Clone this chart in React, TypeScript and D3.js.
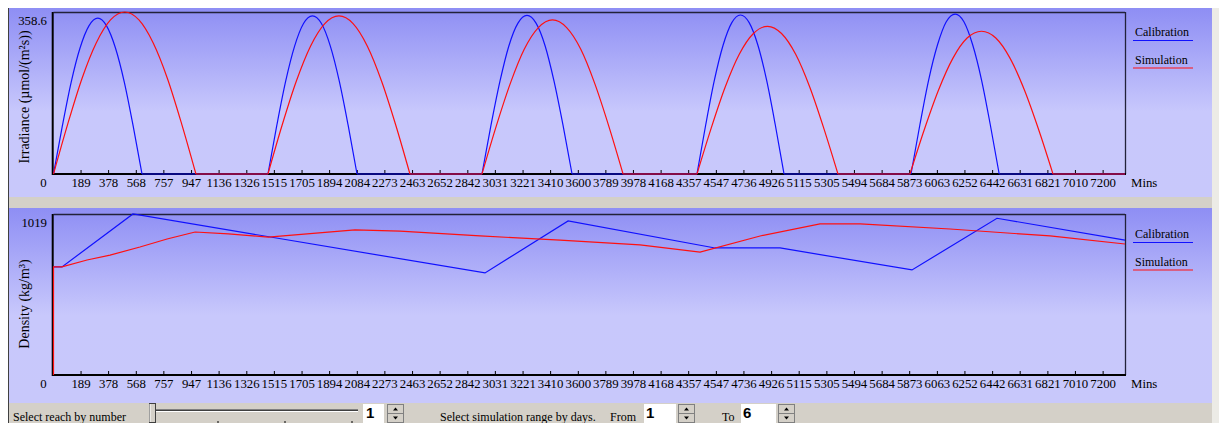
import React from 'react';
import * as d3 from 'd3';

// x axis tick values (minutes)
const xTicks = [189, 378, 568, 757, 947, 1136, 1326, 1515, 1705, 1894, 2084, 2273, 2463, 2652, 2842, 3031, 3221, 3410, 3600, 3789, 3978, 4168, 4357, 4547, 4736, 4926, 5115, 5305, 5494, 5684, 5873, 6063, 6252, 6442, 6631, 6821, 7010, 7200];

const legendLabels = ['Calibration', 'Simulation'];

// irradiance, [minute, value]
const calibrationIrradiance: [number, number][] = [
  [0, 0], [61, 107], [121, 203], [182, 279], [243, 328], [304, 345], [364, 328], [425, 279], [486, 203], [546, 107], [607, 0],
  [1471, 0], [1532, 108], [1593, 206], [1654, 283], [1715, 333], [1776, 350], [1838, 333], [1899, 283], [1960, 206], [2021, 108], [2082, 0],
  [2939, 0], [3001, 108], [3063, 206], [3124, 284], [3186, 334], [3248, 351], [3310, 334], [3372, 284], [3433, 206], [3495, 108], [3557, 0],
  [4414, 0], [4474, 109], [4533, 207], [4593, 285], [4653, 335], [4712, 352], [4772, 335], [4832, 285], [4892, 207], [4951, 109], [5011, 0],
  [5882, 0], [5943, 109], [6003, 208], [6064, 286], [6124, 337], [6185, 354], [6245, 337], [6305, 286], [6366, 208], [6426, 109], [6487, 0],
  [7350, 0],
];

const simulationIrradiance: [number, number][] = [
  [0, 0], [98, 111], [195, 211], [293, 290], [391, 341], [489, 358.6], [586, 341], [684, 290], [782, 211], [879, 111], [977, 0],
  [1471, 0], [1568, 108], [1666, 206], [1763, 283], [1861, 333], [1958, 350], [2055, 333], [2153, 283], [2250, 206], [2348, 108], [2445, 0],
  [2939, 0], [3036, 105], [3133, 200], [3229, 276], [3326, 324], [3423, 341], [3520, 324], [3617, 276], [3713, 200], [3810, 105], [3907, 0],
  [4414, 0], [4511, 101], [4607, 192], [4704, 265], [4801, 311], [4898, 327], [4994, 311], [5091, 265], [5188, 192], [5284, 101], [5381, 0],
  [5875, 0], [5973, 98], [6071, 186], [6169, 256], [6267, 301], [6366, 316], [6464, 301], [6562, 256], [6660, 186], [6758, 98], [6856, 0],
  [7350, 0],
];

// density, [minute, value]
const calibrationDensity: [number, number][] = [
  [0, 684], [58, 684], [545, 1019], [2960, 646], [3530, 975], [4538, 804], [4984, 804], [5889, 665], [6472, 992], [7350, 854],
];

const simulationDensity: [number, number][] = [
  [0, 0], [0, 684], [58, 684], [230, 728], [388, 759], [593, 810], [779, 861], [971, 905], [1200, 893], [1473, 873],
  [2068, 918], [2377, 911], [2926, 880], [3475, 854], [4023, 823], [4435, 778], [4847, 880], [5258, 956], [5533, 956],
  [6150, 924], [6836, 880], [7350, 829],
];

const SERIF = '"Liberation Serif", "Times New Roman", serif';
const SANS = '"Liberation Sans", Arial, sans-serif';
const BLUE = '#1010ff';
const RED = '#ff1010';

const plotLeft = 53.5;
const plotRight = 1125;
const x = d3.scaleLinear().domain([0, 7350]).range([plotLeft, plotRight]);

// split a series into flat zero runs and the bumps between them
function splitRuns(series: [number, number][]) {
  const flats: [number, number][][] = [];
  const bumps: [number, number][][] = [];
  let i = 0;
  while (i < series.length - 1) {
    if (series[i][1] === 0 && series[i + 1][1] === 0) {
      flats.push([series[i], series[i + 1]]);
      i++;
    } else {
      let j = i + 1;
      while (j < series.length - 1 && series[j][1] !== 0) j++;
      bumps.push(series.slice(i, j + 1));
      i = j;
    }
  }
  return { flats, bumps };
}

function Series({ data, y, color, smooth }) {
  const straight = d3.line<[number, number]>().x(d => x(d[0])).y(d => y(d[1]));
  if (!smooth) return <path d={straight(data) || ''} fill="none" stroke={color} strokeWidth={1.2} />;
  const curved = d3.line<[number, number]>().x(d => x(d[0])).y(d => y(d[1])).curve(d3.curveMonotoneX);
  const { flats, bumps } = splitRuns(data);
  return (
    <g fill="none" stroke={color} strokeWidth={1.2}>
      {flats.map((f, i) => <path key={'f' + i} d={straight(f) || ''} />)}
      {bumps.map((b, i) => <path key={'b' + i} d={curved(b) || ''} />)}
    </g>
  );
}

function Chart({ panelTop, panelBottom, plotTop, plotBottom, yMax, yMaxLabel, title, titleY, calibration, simulation, smooth }) {
  const y = d3.scaleLinear().domain([0, yMax]).range([plotBottom, plotTop]);
  const colors = [BLUE, RED];
  return (
    <g>
      <rect x={9} y={panelTop} width={1203} height={panelBottom - panelTop} fill="url(#panelGrad)" />
      {/* frame */}
      <line x1={plotLeft} x2={plotRight} y1={plotTop + 0.5} y2={plotTop + 0.5} stroke="#22223a" strokeWidth={1.5} />
      <line x1={plotRight + 0.5} x2={plotRight + 0.5} y1={plotTop} y2={plotBottom} stroke="#22223a" strokeWidth={1.3} />
      <line x1={52.7} x2={52.7} y1={plotTop} y2={plotBottom + 1} stroke="#000" strokeWidth={2} />
      <line x1={52} x2={plotRight + 1} y1={plotBottom} y2={plotBottom} stroke="#000" strokeWidth={2} />
      {xTicks.map(t => (
        <line key={t} x1={x(t)} x2={x(t)} y1={plotBottom - 1} y2={plotBottom - 4} stroke="#000" strokeWidth={1} />
      ))}
      {/* tick labels */}
      <g fontFamily={SERIF} fontSize={12.8} fill="#000">
        <text x={43.5} y={plotBottom + 12.5} textAnchor="middle">0</text>
        {xTicks.map(t => (
          <text key={t} x={x(t)} y={plotBottom + 12.5} textAnchor="middle">{t}</text>
        ))}
        <text x={1131} y={plotBottom + 12.5}>Mins</text>
        <text x={47} y={plotTop + 12.5} textAnchor="end">{yMaxLabel}</text>
      </g>
      <text transform={`translate(29,${titleY}) rotate(-90)`} textAnchor="middle" fontFamily={SERIF} fontSize={14} fill="#000">{title}</text>
      {/* lines */}
      <Series data={calibration} y={y} color={BLUE} smooth={smooth} />
      <Series data={simulation} y={y} color={RED} smooth={smooth} />
      {/* legend */}
      {legendLabels.map((l, i) => (
        <g key={l}>
          <text x={1135} y={plotTop + 24 + i * 27.5} fontFamily={SERIF} fontSize={12} fill="#000">{l}</text>
          <line x1={1133} x2={1193} y1={plotTop + 28.5 + i * 27.5} y2={plotTop + 28.5 + i * 27.5} stroke={colors[i]} strokeWidth={1.2} />
        </g>
      ))}
    </g>
  );
}

function Spin({ x0, y0 }) {
  return (
    <g>
      <rect x={x0} y={y0} width={16} height={9} fill="#d4d0c8" stroke="#808080" strokeWidth={1} />
      <rect x={x0} y={y0 + 9} width={16} height={9} fill="#d4d0c8" stroke="#808080" strokeWidth={1} />
      <path d={`M${x0 + 8},${y0 + 3} l-2.5,3 h5 z`} fill="#000" />
      <path d={`M${x0 + 8},${y0 + 15} l-2.5,-3 h5 z`} fill="#000" />
    </g>
  );
}

export default function App() {
  return (
    <svg width={1219} height={423} style={{ position: 'absolute', left: 0, top: 0 }}>
      <defs>
        <linearGradient id="panelGrad" x1="0" y1="0" x2="0" y2="1">
          <stop offset="0" stopColor="#8e8ef4" />
          <stop offset="0.55" stopColor="#c8c8fc" />
          <stop offset="1" stopColor="#c8c8fb" />
        </linearGradient>
      </defs>
      <rect x={0} y={0} width={1219} height={423} fill="#fff" />
      <rect x={9} y={8} width={1204} height={415} fill="#d4d0c8" />
      <line x1={8.5} x2={8.5} y1={8} y2={423} stroke="#404040" strokeWidth={1} />
      <rect x={1212} y={8} width={7} height={415} fill="#ecebe6" />
      <Chart panelTop={8} panelBottom={197} plotTop={12} plotBottom={174} yMax={358.6} yMaxLabel="358.6" smooth={true}
        title="Irradiance (µmol/(m²s))" titleY={97} calibration={calibrationIrradiance} simulation={simulationIrradiance} />
      <Chart panelTop={208} panelBottom={403} plotTop={214} plotBottom={375} yMax={1019} yMaxLabel="1019" smooth={false}
        title="Density (kg/m³)" titleY={304} calibration={calibrationDensity} simulation={simulationDensity} />
      {/* controls */}
      <g fontFamily={SERIF} fontSize={12} fill="#000">
        <text x={13} y={421}>Select reach by number</text>
        <text x={440} y={421}>Select simulation range by days.</text>
        <text x={610} y={421}>From</text>
        <text x={722} y={421}>To</text>
      </g>
      <line x1={156} x2={358} y1={409.5} y2={409.5} stroke="#808080" strokeWidth={1} />
      <line x1={156} x2={358} y1={410.5} y2={410.5} stroke="#404040" strokeWidth={1} />
      <line x1={156} x2={358} y1={411.5} y2={411.5} stroke="#ffffff" strokeWidth={1} />
      {[152, 218, 285, 352].map(v => (
        <line key={v} x1={v} x2={v} y1={421} y2={423} stroke="#000" strokeWidth={1} />
      ))}
      <rect x={149.5} y={403.5} width={6} height={19} fill="#d4d0c8" stroke="#404040" strokeWidth={1} />
      <line x1={150} x2={150} y1={404} y2={422} stroke="#fff" />
      <rect x={363} y={404} width={21} height={19} fill="#fff" />
      <text x={366} y={418} fontFamily={SANS} fontSize={15} fontWeight="bold">1</text>
      <Spin x0={387.5} y0={404.5} />
      <rect x={644} y={404} width={32} height={19} fill="#fff" />
      <text x={646} y={418} fontFamily={SANS} fontSize={15} fontWeight="bold">1</text>
      <Spin x0={678.5} y0={404.5} />
      <rect x={741} y={404} width={35} height={19} fill="#fff" />
      <text x={743} y={418} fontFamily={SANS} fontSize={15} fontWeight="bold">6</text>
      <Spin x0={778.5} y0={404.5} />
    </svg>
  );
}
